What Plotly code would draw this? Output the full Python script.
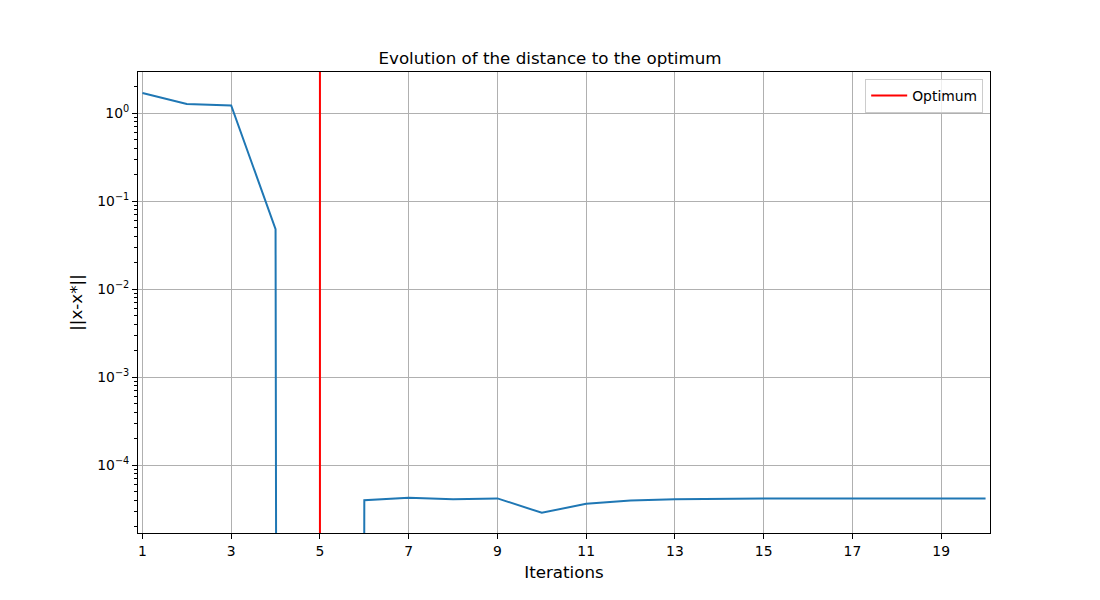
import plotly.graph_objects as go

iterations = list(range(1, 21))
distance = [1.69, 1.265, 1.22, 0.048, 0.0, 4.0e-5, 4.27e-5, 4.1e-5, 4.2e-5, 2.88e-5,
            3.65e-5, 3.97e-5, 4.1e-5, 4.17e-5, 4.2e-5, 4.2e-5, 4.2e-5, 4.2e-5, 4.2e-5, 4.2e-5]
optimum_iter = 5
x_tickvals = [1, 3, 5, 7, 9, 11, 13, 15, 17, 19]
y_tickvals = [1, 0.1, 0.01, 0.001, 0.0001]
y_ticktext = ["10<sup>0</sup>", "10<sup>\u22121</sup>", "10<sup>\u22122</sup>",
              "10<sup>\u22123</sup>", "10<sup>\u22124</sup>"]

# zero distances are drawn as -inf on a log axis: map to a vanishing value
plot_y = [v if v > 0 else 1e-300 for v in distance]

fig = go.Figure()
fig.add_trace(go.Scatter(x=iterations, y=plot_y, mode="lines",
                         line=dict(color="#1f77b4", width=2), showlegend=False))
fig.add_vline(x=optimum_iter, line_color="red", line_width=2,
              showlegend=True, name="Optimum", layer="above")

font = "DejaVu Sans, Liberation Sans, sans-serif"
fig.update_layout(
    width=1100, height=600,
    paper_bgcolor="white", plot_bgcolor="white",
    margin=dict(l=138, r=110, t=72, b=67),
    font=dict(family=font, color="black", size=13.9),
    title=dict(text="Evolution of the distance to the optimum", x=0.5, xanchor="center",
               y=1 - 58 / 600, yanchor="middle", font=dict(size=16.7)),
    legend=dict(x=0.992, y=0.985, xanchor="right", yanchor="top",
                bordercolor="#cccccc", borderwidth=1, bgcolor="rgba(255,255,255,0.8)",
                font=dict(size=13.9), itemwidth=36),
)
fig.update_xaxes(range=[0.9, 20.1], tickvals=x_tickvals, showgrid=True, gridcolor="#b0b0b0",
                 gridwidth=1, showline=True, linecolor="black", linewidth=1, mirror=True,
                 ticks="outside", ticklen=5, tickcolor="black", zeroline=False,
                 title=dict(text="Iterations", font=dict(size=16.7), standoff=8))
fig.update_yaxes(type="log", range=[-4.77, 0.466], tickvals=y_tickvals, ticktext=y_ticktext,
                 showgrid=True, gridcolor="#b0b0b0", gridwidth=1, showline=True,
                 linecolor="black", linewidth=1, mirror=True, ticks="outside", ticklen=5,
                 tickcolor="black", zeroline=False,
                 minor=dict(ticks="outside", ticklen=3, tickcolor="black", showgrid=False, dtick="D1"),
                 title=dict(text="||x-x*||", font=dict(size=16.7), standoff=10))

fig.write_html("out.html")
